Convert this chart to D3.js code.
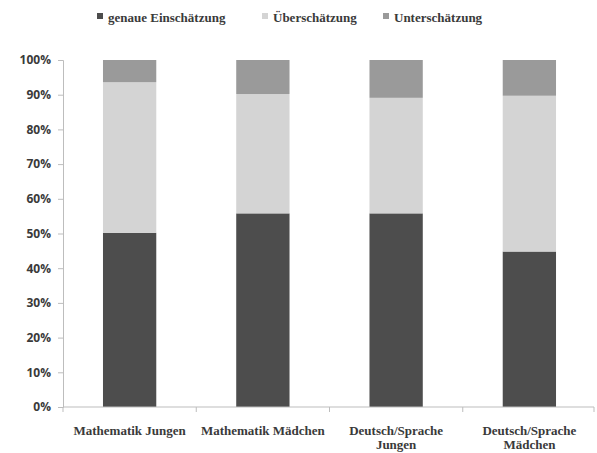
<!DOCTYPE html>
<html>
<head>
<meta charset="utf-8">
<script src="https://cdn.jsdelivr.net/npm/d3@7"></script>
<style>
  body { margin: 0; background: #fff; }
  text { fill: #3a3a3a; }
</style>
</head>
<body>
<svg id="chart" width="597" height="453"></svg>
<script>
const width = 597;
const height = 453;

// categories and shares (percent)
const categories = ["Mathematik Jungen", "Mathematik Mädchen", "Deutsch/Sprache Jungen", "Deutsch/Sprache Mädchen"];
const genaue = [50.2, 55.8, 55.8, 44.8];
const ueber = [43.4, 34.4, 33.3, 44.9];
const unter = [6.4, 9.8, 10.9, 10.3];
const seriesNames = ["genaue Einschätzung", "Überschätzung", "Unterschätzung"];
const seriesColors = ["#4d4d4d", "#d4d4d4", "#9a9a9a"];
const yTicks = [0, 10, 20, 30, 40, 50, 60, 70, 80, 90, 100];

const margin = { top: 60, right: 1, bottom: 46, left: 63 };

const data = categories.map((c, i) => ({
  cat: c,
  genaue: genaue[i],
  ueber: ueber[i],
  unter: unter[i]
}));

const stack = d3.stack().keys(["genaue", "ueber", "unter"]);
const layers = stack(data);

const svg = d3.select("#chart");

const x = d3.scaleBand()
  .domain(categories)
  .range([margin.left, width - margin.right])
  .paddingInner(0.6)
  .paddingOuter(0.3);

const y = d3.scaleLinear()
  .domain([0, 100])
  .range([height - margin.bottom, margin.top]);

// y axis
const yAxis = svg.append("g")
  .attr("transform", `translate(${margin.left},0)`)
  .call(d3.axisLeft(y).tickValues(yTicks).tickFormat(d => d + "%").tickSize(5).tickPadding(7));
yAxis.select(".domain").attr("stroke", "#bdbdbd");
yAxis.selectAll(".tick line").attr("stroke", "#bdbdbd");
yAxis.selectAll(".tick text")
  .attr("font-family", "'Open Sans', sans-serif")
  .attr("font-weight", "bold")
  .attr("font-size", "12px")
  .attr("fill", "#3a3a3a");

// bars
svg.append("g")
  .selectAll("g")
  .data(layers)
  .join("g")
    .attr("fill", (d, i) => seriesColors[i])
  .selectAll("rect")
  .data(d => d)
  .join("rect")
    .attr("x", d => x(d.data.cat))
    .attr("y", d => y(d[1]))
    .attr("width", x.bandwidth())
    .attr("height", d => y(d[0]) - y(d[1]));

// x axis with ticks between categories
const xAxisG = svg.append("g")
  .attr("transform", `translate(0,${height - margin.bottom})`);
xAxisG.append("line")
  .attr("x1", margin.left)
  .attr("x2", width - margin.right - 2)
  .attr("stroke", "#bdbdbd");
const tickX = categories.map((c, i) => margin.left + i * x.step()).concat([width - margin.right - 2]);
xAxisG.selectAll("line.tick")
  .data(tickX)
  .join("line")
    .attr("class", "tick")
    .attr("x1", d => d)
    .attr("x2", d => d)
    .attr("y1", 0)
    .attr("y2", 5)
    .attr("stroke", "#bdbdbd");

// category labels (wrapped)
const labelLines = [["Mathematik Jungen"], ["Mathematik Mädchen"], ["Deutsch/Sprache", "Jungen"], ["Deutsch/Sprache", "Mädchen"]];
const lab = xAxisG.selectAll("text.cat")
  .data(categories)
  .join("text")
    .attr("class", "cat")
    .attr("x", d => x(d) + x.bandwidth() / 2)
    .attr("y", 28)
    .attr("text-anchor", "middle")
    .attr("font-family", "'Liberation Serif', serif")
    .attr("font-weight", "bold")
    .attr("font-size", "13px");
lab.each(function (d, i) {
  d3.select(this).selectAll("tspan")
    .data(labelLines[i])
    .join("tspan")
      .attr("x", x(d) + x.bandwidth() / 2)
      .attr("dy", (t, j) => j === 0 ? 0 : 14)
      .text(t => t);
});

// legend
const legendX = [97, 262, 383];
const legend = svg.append("g").attr("transform", "translate(0,17)");
seriesNames.forEach((name, i) => {
  legend.append("rect")
    .attr("x", legendX[i])
    .attr("y", -4)
    .attr("width", 6)
    .attr("height", 6)
    .attr("fill", seriesColors[i]);
  legend.append("text")
    .attr("x", legendX[i] + 11)
    .attr("y", 0)
    .attr("dy", "0.35em")
    .attr("font-family", "'Liberation Serif', serif")
    .attr("font-weight", "bold")
    .attr("font-size", "13px")
    .text(name);
});
</script>
</body>
</html>
